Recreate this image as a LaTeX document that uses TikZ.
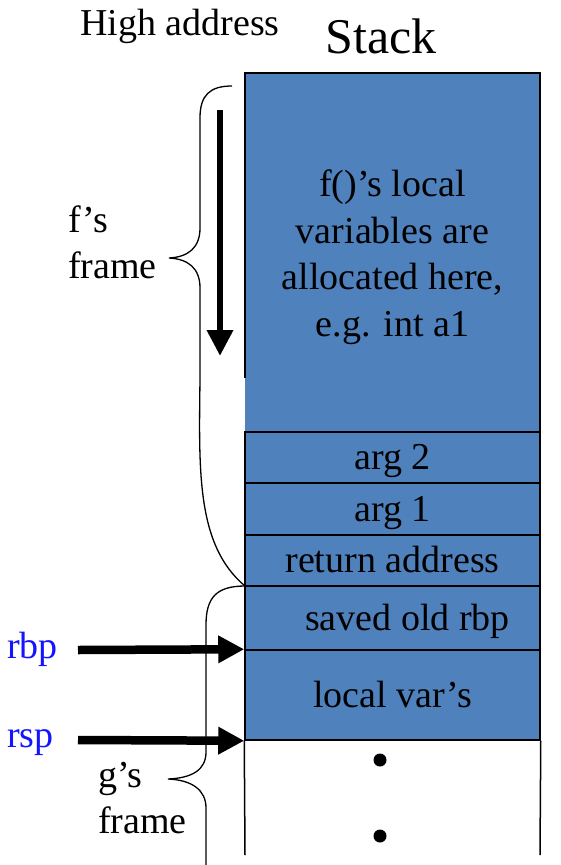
\documentclass[tikz,border=0pt]{standalone}
\usepackage{fontspec}
\setmainfont{Liberation Serif}
\usetikzlibrary{arrows.meta}
\definecolor{stackblue}{RGB}{79,129,189}
\definecolor{regblue}{RGB}{20,20,255}
\begin{document}
\begin{tikzpicture}[x=1pt,y=-1pt,
  txt/.style={font=\fontsize{38}{46.5}\selectfont, inner sep=0pt},
  cell/.style={fill=stackblue, draw=black, line width=1.5pt, minimum width=295pt, inner sep=0pt, text height=29pt, text depth=5pt, font=\fontsize{38}{46.5}\selectfont},
  bigarrow/.style={line width=8.5pt, -{Triangle[length=26pt,width=26pt]}},
  brace/.style={line width=1.3pt, draw=black}
]
\useasboundingbox (0,0) rectangle (560,865);
% top box (f's locals)
\node[fill=stackblue, minimum width=295pt, minimum height=359pt, inner sep=0pt] (top) at (392.5,252.5) {};
\draw[line width=1.5pt] (245,378) -- (245,73) -- (540,73) -- (540,432);
\node[txt, align=center] (toptxt) at (392.5,257) {f()’s local\\variables are\\allocated here,\\e.g. int a1};
% cells
\node[cell, minimum height=51pt] (arg2) at (392.5,457.5) {arg 2};
\node[cell, minimum height=52pt] (arg1) at (392.5,509) {arg 1};
\node[cell, minimum height=51pt] (ret) at (392.5,560.5) {return address};
\node[cell, minimum height=64pt] (saved) at (392.5,618) {\hspace*{30pt}saved old rbp};
\node[cell, minimum height=90pt] (local) at (392.5,695) {local var’s};
% white region
\draw[line width=1.5pt] (local.south west) -- (245,855);
\draw[line width=1.5pt] (local.south east) -- (540,855);
\fill (380,760) circle (6.5pt);
\fill (380,836) circle (6.5pt);
% titles
\node[txt, anchor=base west] (high) at (80,35) {High address};
\node[txt, font=\fontsize{50}{60}\selectfont, anchor=base] (stack) at (381,53) {Stack};
% f's frame
\node[txt, anchor=base west] (fs) at (68,232) {f’s};
\node[txt, anchor=base west] (fframe) at (68,278) {frame};
\draw[brace] (232,86) .. controls (210,86) and (200,95) .. (200,118) -- (200,228)
  .. controls (200,248) and (188,257) .. (169,258)
  .. controls (188,259) and (200,268) .. (200,288) -- (200,378)
  .. controls (199,470) and (196,545) .. (245,586);
% growth arrow
\coordinate (ga) at (220,110);
\coordinate (gb) at (220,356);
\draw[line width=6.5pt, -{Triangle[length=26pt,width=25pt]}] (ga) -- (gb);
% g's frame
\node[txt, anchor=base west] (gs) at (98,787) {g’s};
\node[txt, anchor=base west] (gframe) at (98,833) {frame};
\draw[brace] (245,586) .. controls (216,586) and (206,598) .. (206,625) -- (206,752)
  .. controls (206,770) and (192,778) .. (168,779)
  .. controls (192,780) and (206,790) .. (206,808) -- (206,865);
% registers
\node[txt, text=regblue, anchor=base west] (rbp) at (7,658) {rbp};
\node[txt, text=regblue, anchor=base west] (rsp) at (7,747) {rsp};
\coordinate (rbps) at (78,650);
\coordinate (rsps) at (78,740);
\draw[bigarrow] (rbps) -- (local.north west);
\draw[bigarrow] (rsps) -- (local.south west);
\end{tikzpicture}
\end{document}
